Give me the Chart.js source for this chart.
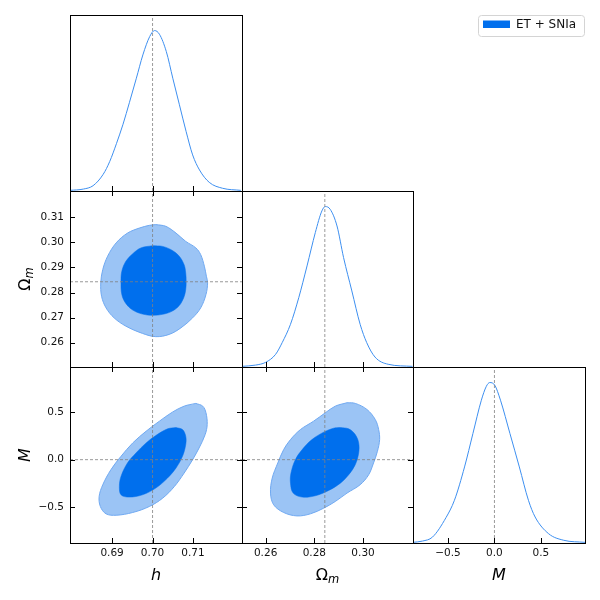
<!DOCTYPE html>
<html>
<head>
<meta charset="utf-8">
<script src="https://cdn.jsdelivr.net/npm/chart.js@4"></script>
<style>
html, body { margin: 0; padding: 0; background: #fff; }
#wrap { position: relative; width: 600px; height: 600px; }
#wrap canvas { position: absolute; left: 0; top: 0; }
#wrap canvas.leg { left: 478px; top: 15px; }
</style>
</head>
<body>
<div id="wrap"></div>
<script>
// axis ranges and ticks
const hRange = [0.6796, 0.7221];
const omRange = [0.2503, 0.3205];
const mRange = [-0.877, 0.975];
const pRange = [0, 1.097];
const hTicks = [0.69, 0.70, 0.71];
const omXTicks = [0.26, 0.28, 0.30];
const omYTicks = [0.26, 0.27, 0.28, 0.29, 0.30, 0.31];
const mTicks = [-0.5, 0.0, 0.5];
const truth = [0.700, 0.2843, 0.0]; // h, Om, M

// 1D marginals (normalised to peak)
const hX = [0.6796, 0.6829, 0.6853, 0.6878, 0.6894, 0.6911, 0.6927, 0.6943, 0.6960, 0.6976, 0.6993, 0.7005, 0.7017, 0.7034, 0.7050, 0.7066, 0.7083, 0.7099, 0.7116, 0.7140, 0.7173, 0.7218];
const hP = [0.004, 0.012, 0.033, 0.104, 0.183, 0.297, 0.416, 0.553, 0.703, 0.848, 0.963, 1.0, 0.977, 0.869, 0.703, 0.541, 0.370, 0.225, 0.131, 0.054, 0.017, 0.004];
const omX = [0.2503, 0.2559, 0.2600, 0.2641, 0.2668, 0.2702, 0.2736, 0.2770, 0.2804, 0.2831, 0.2845, 0.2865, 0.2893, 0.2920, 0.2954, 0.2988, 0.3015, 0.3049, 0.3103, 0.3203];
const omP = [0.004, 0.012, 0.029, 0.079, 0.152, 0.266, 0.432, 0.630, 0.838, 0.973, 1.0, 0.983, 0.879, 0.682, 0.474, 0.266, 0.152, 0.062, 0.017, 0.004];
const mX = [-0.877, -0.775, -0.667, -0.522, -0.431, -0.322, -0.232, -0.141, -0.087, -0.051, 0.004, 0.065, 0.167, 0.268, 0.366, 0.438, 0.583, 0.746, 0.975];
const mP = [0.004, 0.012, 0.037, 0.158, 0.266, 0.474, 0.682, 0.890, 0.977, 1.0, 0.983, 0.890, 0.682, 0.474, 0.266, 0.162, 0.058, 0.017, 0.004];

// 2D contours [x, y], 68% and 95%
const hOm68 = [[0.7000,0.2987],[0.7025,0.2984],[0.7049,0.2968],[0.7066,0.2945],[0.7078,0.2911],[0.7082,0.2878],[0.7083,0.2845],[0.7082,0.2812],[0.7077,0.2779],[0.7066,0.2748],[0.7049,0.2726],[0.7025,0.2713],[0.7000,0.2709],[0.6975,0.2714],[0.6951,0.2730],[0.6934,0.2756],[0.6924,0.2792],[0.6922,0.2845],[0.6924,0.2885],[0.6934,0.2925],[0.6951,0.2955],[0.6971,0.2978]];
const hOm95 = [[0.7008,0.3071],[0.7033,0.3064],[0.7058,0.3037],[0.7082,0.3004],[0.7107,0.2978],[0.7119,0.2951],[0.7128,0.2905],[0.7133,0.2865],[0.7136,0.2839],[0.7132,0.2792],[0.7119,0.2739],[0.7099,0.2699],[0.7070,0.2659],[0.7041,0.2633],[0.7008,0.2624],[0.6975,0.2637],[0.6934,0.2666],[0.6905,0.2699],[0.6885,0.2739],[0.6874,0.2785],[0.6872,0.2839],[0.6877,0.2892],[0.6889,0.2945],[0.6910,0.2998],[0.6938,0.3037],[0.6967,0.3057],[0.6992,0.3068]];
const hM68 = [[0.7058,0.338],[0.7074,0.317],[0.7082,0.247],[0.7082,0.159],[0.7074,0.035],[0.7058,-0.088],[0.7037,-0.194],[0.7008,-0.299],[0.6975,-0.370],[0.6942,-0.394],[0.6922,-0.370],[0.6918,-0.282],[0.6922,-0.176],[0.6938,-0.035],[0.6959,0.070],[0.6984,0.176],[0.7008,0.254],[0.7037,0.324]];
const hM95 = [[0.7107,0.592],[0.7124,0.563],[0.7132,0.493],[0.7135,0.370],[0.7130,0.264],[0.7115,0.123],[0.7099,0.0],[0.7078,-0.141],[0.7054,-0.282],[0.7025,-0.405],[0.6992,-0.493],[0.6951,-0.556],[0.6910,-0.585],[0.6885,-0.570],[0.6871,-0.493],[0.6868,-0.387],[0.6877,-0.264],[0.6897,-0.106],[0.6922,0.035],[0.6951,0.176],[0.6984,0.299],[0.7017,0.405],[0.7049,0.500],[0.7078,0.563]];
const omM68 = [[0.2907,0.338],[0.2941,0.324],[0.2968,0.264],[0.2982,0.176],[0.2982,0.070],[0.2968,-0.053],[0.2941,-0.159],[0.2907,-0.247],[0.2859,-0.324],[0.2804,-0.380],[0.2750,-0.394],[0.2713,-0.352],[0.2702,-0.247],[0.2704,-0.141],[0.2722,0.0],[0.2750,0.106],[0.2790,0.211],[0.2838,0.289],[0.2879,0.331]];
const omM95 = [[0.2934,0.599],[0.2968,0.592],[0.3016,0.528],[0.3050,0.423],[0.3064,0.317],[0.3068,0.211],[0.3059,0.088],[0.3043,-0.035],[0.3023,-0.159],[0.2988,-0.264],[0.2934,-0.352],[0.2886,-0.440],[0.2838,-0.511],[0.2784,-0.570],[0.2729,-0.592],[0.2674,-0.556],[0.2633,-0.475],[0.2620,-0.352],[0.2627,-0.194],[0.2650,-0.035],[0.2674,0.106],[0.2702,0.211],[0.2743,0.317],[0.2797,0.405],[0.2845,0.493],[0.2886,0.563]];

const FONT = "'DejaVu Sans', sans-serif";
const blue = '#006FED';
const light = '#9BC4F5';
const colX = [70, 242, 413, 585];
const rowY = [15, 191, 367, 543];
const AXW = 40, AXH = 20;

Chart.defaults.font.family = FONT;

const hLabel = [{t: 'h', font: `italic 16px ${FONT}`}];
const omLabel = [{t: 'Ω', font: `16px ${FONT}`}, {t: 'm', font: `italic 11.5px ${FONT}`, dy: 3}];
const mLabel = [{t: 'M', font: `italic 16px ${FONT}`}];

function drawTitle(ctx, parts, x, y, rot) {
  ctx.save();
  ctx.translate(x, y);
  if (rot) ctx.rotate(-Math.PI / 2);
  let w = 0;
  parts.forEach(p => { ctx.font = p.font; w += ctx.measureText(p.t).width; });
  let cx = -w / 2;
  ctx.fillStyle = '#000';
  ctx.textAlign = 'left';
  ctx.textBaseline = 'alphabetic';
  parts.forEach(p => {
    ctx.font = p.font;
    ctx.fillText(p.t, cx, p.dy || 0);
    cx += ctx.measureText(p.t).width;
  });
  ctx.restore();
}

// box, inward ticks and axis titles (matplotlib look)
const framePlugin = {
  id: 'frame',
  afterDraw(chart, args, o) {
    const {ctx, chartArea: a} = chart;
    const sx = chart.scales.x, sy = chart.scales.y;
    const len = 5;
    ctx.save();
    ctx.strokeStyle = '#000';
    ctx.lineWidth = 1;
    ctx.beginPath();
    o.xTicks.forEach(v => {
      const p = Math.round(sx.getPixelForValue(v)) + 0.5;
      if (o.sides.includes('b')) { ctx.moveTo(p, a.bottom); ctx.lineTo(p, a.bottom - len); }
      if (o.sides.includes('t')) { ctx.moveTo(p, a.top); ctx.lineTo(p, a.top + len); }
    });
    (o.yTicks || []).forEach(v => {
      const p = Math.round(sy.getPixelForValue(v)) + 0.5;
      if (o.sides.includes('l')) { ctx.moveTo(a.left, p); ctx.lineTo(a.left + len, p); }
      if (o.sides.includes('r')) { ctx.moveTo(a.right, p); ctx.lineTo(a.right - len, p); }
    });
    ctx.stroke();
    ctx.strokeRect(Math.round(a.left) + 0.5, Math.round(a.top) + 0.5, Math.round(a.width), Math.round(a.height));
    ctx.restore();
    if (o.xTitle) drawTitle(ctx, o.xTitle, (a.left + a.right) / 2, a.bottom + 37, false);
    if (o.yTitle) drawTitle(ctx, o.yTitle, a.left - 40.5, (a.top + a.bottom) / 2, true);
  }
};

function fmt2(v) { return v.toFixed(2); }
function fmtM(v) { return v.toFixed(1).replace('-', '\u2212'); }

function axis(range, ticks, fmt, show, pos) {
  return {
    type: 'linear', position: pos, min: range[0], max: range[1],
    display: show,
    grid: {display: false, drawTicks: false},
    border: {display: false},
    afterBuildTicks: s => { s.ticks = ticks.map(v => ({value: v})); },
    afterFit: s => {
      if (!show) return;
      if (pos === 'left') s.width = AXW; else s.height = AXH;
    },
    ticks: {
      autoSkip: false, maxRotation: 0, minRotation: 0,
      padding: pos === 'left' ? 6 : 4,
      color: '#111', font: {family: FONT, size: 10.5},
      callback: v => fmt(v)
    }
  };
}

function vLine(x, yr) {
  return {data: [{x: x, y: yr[0]}, {x: x, y: yr[1]}], borderColor: '#808080', borderWidth: 0.8, borderDash: [3, 2], fill: false};
}
function hLine(y, xr) {
  return {data: [{x: xr[0], y: y}, {x: xr[1], y: y}], borderColor: '#808080', borderWidth: 0.8, borderDash: [3, 2], fill: false};
}
function curve(xs, ps) {
  return {data: xs.map((x, i) => ({x: x, y: ps[i]})), borderColor: '#3d8ff0', borderWidth: 1, fill: false, cubicInterpolationMode: 'monotone'};
}
function contour(pts, inner) {
  const d = pts.concat([pts[0]]).map(p => ({x: p[0], y: p[1]}));
  return {
    data: d, fill: 'shape', tension: 0.35,
    backgroundColor: inner ? blue : light,
    borderColor: inner ? blue : '#70A9F1',
    borderWidth: inner ? 0.5 : 1
  };
}

function panel(col, row, c) {
  const cv = document.createElement('canvas');
  cv.width = 600; cv.height = 600;
  document.getElementById('wrap').appendChild(cv);
  const L = colX[col], R = colX[col + 1], T = rowY[row], B = rowY[row + 1];
  new Chart(cv, {
    type: 'line',
    data: {datasets: c.datasets},
    options: {
      responsive: false, animation: false, events: [],
      layout: {padding: {
        left: c.yLab ? L - AXW : L, top: T, right: 600 - R,
        bottom: c.xLab ? 600 - B - AXH : 600 - B
      }},
      elements: {point: {radius: 0}},
      plugins: {
        legend: {display: false}, tooltip: {enabled: false},
        frame: {xTicks: c.xTicks, yTicks: c.yTicks, sides: c.sides, xTitle: c.xTitle, yTitle: c.yTitle}
      },
      scales: {
        x: axis(c.xr, c.xTicks, c.xFmt, !!c.xLab, 'bottom'),
        y: axis(c.yr, c.yTicks || [], c.yFmt || fmt2, !!c.yLab, 'left')
      }
    },
    plugins: [framePlugin]
  });
}

// h marginal
panel(0, 0, {xr: hRange, yr: pRange, xTicks: hTicks, xFmt: fmt2, sides: 'b',
  datasets: [vLine(truth[0], pRange), curve(hX, hP)]});
// h - Omega_m
panel(0, 1, {xr: hRange, yr: omRange, xTicks: hTicks, yTicks: omYTicks, xFmt: fmt2, sides: 'tblr',
  yLab: true, yTitle: omLabel,
  datasets: [vLine(truth[0], omRange), hLine(truth[1], hRange), contour(hOm68, true), contour(hOm95, false)]});
// Omega_m marginal
panel(1, 1, {xr: omRange, yr: pRange, xTicks: omXTicks, xFmt: fmt2, sides: 'b',
  datasets: [vLine(truth[1], pRange), curve(omX, omP)]});
// h - M
panel(0, 2, {xr: hRange, yr: mRange, xTicks: hTicks, yTicks: mTicks, xFmt: fmt2, yFmt: fmtM, sides: 'tblr',
  xLab: true, yLab: true, xTitle: hLabel, yTitle: mLabel,
  datasets: [vLine(truth[0], mRange), hLine(truth[2], hRange), contour(hM68, true), contour(hM95, false)]});
// Omega_m - M
panel(1, 2, {xr: omRange, yr: mRange, xTicks: omXTicks, yTicks: mTicks, xFmt: fmt2, yFmt: fmtM, sides: 'tblr',
  xLab: true, xTitle: omLabel,
  datasets: [vLine(truth[1], mRange), hLine(truth[2], omRange), contour(omM68, true), contour(omM95, false)]});
// M marginal
panel(2, 2, {xr: mRange, yr: pRange, xTicks: mTicks, xFmt: fmtM, sides: 'b',
  xLab: true, xTitle: mLabel,
  datasets: [vLine(truth[2], pRange), curve(mX, mP)]});

// legend
const legFrame = {
  id: 'legFrame',
  beforeDraw(chart) {
    const ctx = chart.ctx, w = chart.width, h = chart.height;
    ctx.save();
    ctx.fillStyle = '#fff';
    ctx.strokeStyle = '#d4d4d4';
    ctx.lineWidth = 1;
    ctx.beginPath();
    ctx.roundRect(0.5, 0.5, w - 1, h - 1, 3);
    ctx.fill();
    ctx.stroke();
    ctx.restore();
  }
};
const lc = document.createElement('canvas');
lc.width = 107; lc.height = 22; lc.className = 'leg';
document.getElementById('wrap').appendChild(lc);
new Chart(lc, {
  type: 'line',
  data: {datasets: [{label: 'ET + SNIa', data: [], backgroundColor: blue, borderColor: blue, borderWidth: 0}]},
  options: {
    responsive: false, animation: false, events: [],
    layout: {padding: {left: 5, top: 4}},
    scales: {x: {display: false}, y: {display: false}},
    plugins: {
      tooltip: {enabled: false},
      legend: {display: true, position: 'top', align: 'start',
        labels: {boxWidth: 27, boxHeight: 9, padding: 0, color: '#111', font: {family: FONT, size: 12}}}
    }
  },
  plugins: [legFrame]
});
</script>
</body>
</html>
